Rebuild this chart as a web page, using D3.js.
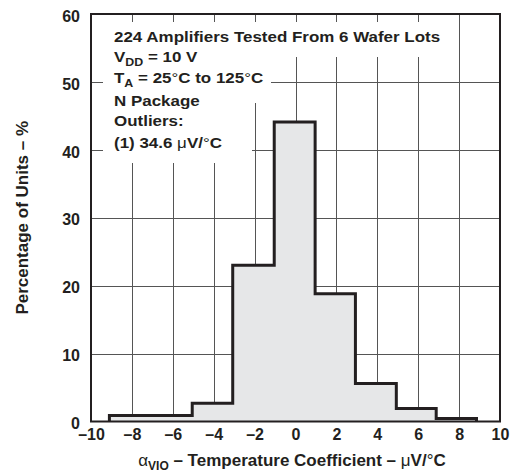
<!DOCTYPE html>
<html>
<head>
<meta charset="utf-8">
<script src="https://cdn.jsdelivr.net/npm/d3@7"></script>
<style>
  body { margin: 0; background: #fff; }
  svg text { font-family: "Liberation Sans", Arial, Helvetica, sans-serif; font-weight: bold; fill: #231f20; }
</style>
</head>
<body>
<svg></svg>
<script>
// bin edges in uV/C and percentage of units in each bin
var binEdges = [-9.1, -7.05, -5.05, -3.07, -1.04, 0.96, 2.93, 4.93, 6.88, 8.85];
var binPercent = [0.9, 0.9, 2.7, 23.0, 44.1, 18.8, 5.6, 1.9, 0.45];
var xTicks = [-10, -8, -6, -4, -2, 0, 2, 4, 6, 8, 10];
var xTickLabels = ['\u201310', '\u20138', '\u20136', '\u20134', '\u20132', '0', '2', '4', '6', '8', '10'];
var yTicks = [0, 10, 20, 30, 40, 50, 60];
var noteLines = [
    [['224 Amplifiers Tested From 6 Wafer Lots']],
    [['V'], ['DD', 'sub'], [' = 10 V']],
    [['T'], ['A', 'sub'], [' = 25'], ['\u00b0', 'reg'], ['C to 125'], ['\u00b0', 'reg'], ['C']],
    [['N Package']],
    [['Outliers:']],
    [['(1) 34.6 '], ['\u03bc', 'reg'], ['V/'], ['\u00b0', 'reg'], ['C']]
];

var width = 515;
var height = 474;
var pl = 91, pr = 500, pt = 14, pb = 421.5;

var svg = d3.select('svg')
    .attr('width', width)
    .attr('height', height);

var xScale = d3.scaleLinear().domain([-10, 10]).range([pl, pr]);
var yScale = d3.scaleLinear().domain([0, 60]).range([pb, pt]);

// grid
svg.append('g')
    .selectAll('line')
    .data(xTicks.slice(1, -1))
    .enter().append('line')
    .attr('x1', d => Math.round(xScale(d)) + 0.5)
    .attr('x2', d => Math.round(xScale(d)) + 0.5)
    .attr('y1', pt)
    .attr('y2', pb)
    .attr('stroke', '#555')
    .attr('stroke-width', 1);
svg.append('g')
    .selectAll('line')
    .data(yTicks.slice(1, -1))
    .enter().append('line')
    .attr('x1', pl)
    .attr('x2', pr)
    .attr('y1', d => Math.round(yScale(d)) + 0.5)
    .attr('y2', d => Math.round(yScale(d)) + 0.5)
    .attr('stroke', '#555')
    .attr('stroke-width', 1);

// histogram
var pts = binPercent.map((v, i) => [binEdges[i], v]);
pts.push([binEdges[binEdges.length - 1], binPercent[binPercent.length - 1]]);
var area = d3.area()
    .x(d => xScale(d[0]))
    .y0(yScale(0))
    .y1(d => yScale(d[1]))
    .curve(d3.curveStepAfter);
svg.append('path')
    .datum(pts)
    .attr('d', area)
    .attr('fill', '#e6e7e8');
var outline = [[binEdges[0], 0]].concat(pts, [[binEdges[binEdges.length - 1], 0]]);
svg.append('path')
    .datum(outline)
    .attr('d', d3.line().x(d => xScale(d[0])).y(d => yScale(d[1])).curve(d3.curveStepAfter))
    .attr('fill', 'none')
    .attr('stroke', '#231f20')
    .attr('stroke-width', 3);

// white boxes behind the note
var boxes = [[103, 22, 452, 57], [103, 57, 271, 103], [103, 103, 252, 163]];
svg.append('g')
    .selectAll('rect')
    .data(boxes)
    .enter().append('rect')
    .attr('x', d => d[0])
    .attr('y', d => d[1])
    .attr('width', d => d[2] - d[0])
    .attr('height', d => d[3] - d[1])
    .attr('fill', '#fff');

// frame
svg.append('rect')
    .attr('x', pl)
    .attr('y', pt)
    .attr('width', pr - pl)
    .attr('height', pb - pt)
    .attr('fill', 'none')
    .attr('stroke', '#231f20')
    .attr('stroke-width', 2);

// axes
var xAxis = d3.axisBottom(xScale)
    .tickValues(xTicks)
    .tickFormat((d, i) => xTickLabels[i])
    .tickSize(0)
    .tickPadding(7);
var gx = svg.append('g')
    .attr('transform', `translate(0,${pb})`)
    .call(xAxis);
gx.select('.domain').remove();
gx.selectAll('text').attr('font-size', 16);

var yAxis = d3.axisLeft(yScale)
    .tickValues(yTicks)
    .tickSize(0)
    .tickPadding(11);
var gy = svg.append('g')
    .attr('transform', `translate(${pl},0)`)
    .call(yAxis);
gy.select('.domain').remove();
gy.selectAll('text').attr('font-size', 16).attr('dy', '0.45em');
svg.selectAll('g').attr('font-family', null).attr('font-size', null);
svg.selectAll('.tick text').attr('fill', '#231f20');

// note
var baselines = [42, 62, 82.5, 105.5, 126, 147.5];
noteLines.forEach(function (segs, i) {
    var t = svg.append('text')
        .attr('transform', `translate(114,${baselines[i]}) scale(1.13,1)`)
        .attr('font-size', 15);
    segs.forEach(function (s, j) {
        var sp = t.append('tspan').text(s[0]);
        if (s[1] == 'sub') sp.attr('font-size', 11).attr('dy', 4);
        else if (j > 0 && segs[j - 1][1] == 'sub') sp.attr('dy', -4);
        if (s[1] == 'reg') sp.attr('font-weight', 'normal');
    });
});

// axis titles
var xt = svg.append('text')
    .attr('x', 292)
    .attr('y', 466)
    .attr('text-anchor', 'middle')
    .attr('font-size', 17);
xt.append('tspan').attr('font-weight', 'normal').text('\u03b1');
xt.append('tspan').attr('font-size', 12).attr('dy', 3.5).text('VIO');
xt.append('tspan').attr('dy', -3.5).text(' \u2013 Temperature Coefficient \u2013 ');
xt.append('tspan').attr('font-weight', 'normal').text('\u03bc');
xt.append('tspan').text('V/');
xt.append('tspan').attr('font-weight', 'normal').text('\u00b0');
xt.append('tspan').text('C');

svg.append('text')
    .attr('transform', `translate(28,${(pt + pb) / 2}) rotate(-90)`)
    .attr('text-anchor', 'middle')
    .attr('font-size', 17)
    .text('Percentage of Units \u2013 %');
</script>
</body>
</html>
